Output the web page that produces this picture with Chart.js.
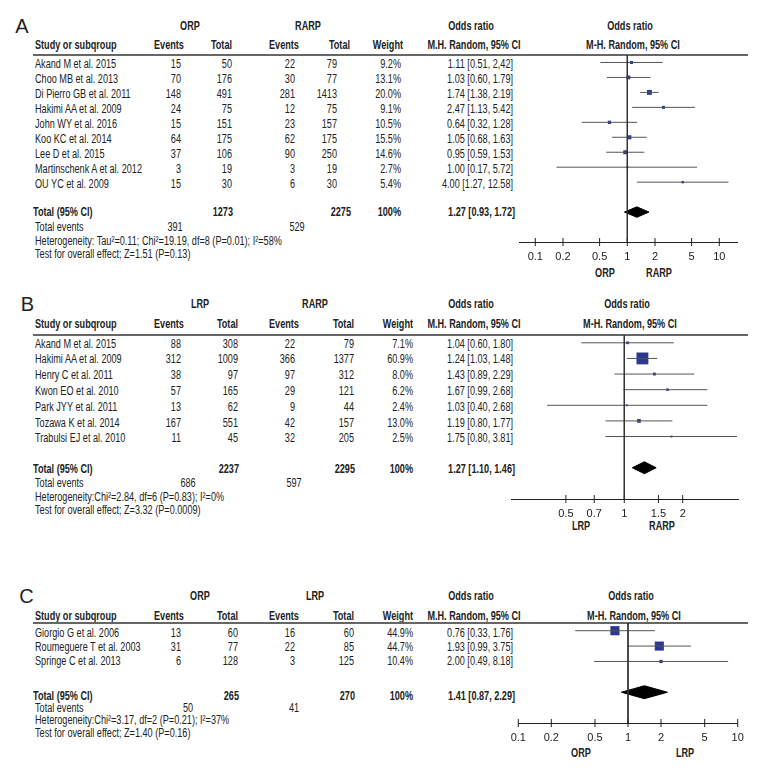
<!DOCTYPE html>
<html>
<head>
<meta charset="utf-8">
<script src="https://cdn.jsdelivr.net/npm/chart.js@4.4.0/dist/chart.umd.min.js"></script>
<style>
  body { margin: 0; background: #fff; }
  #wrap { position: relative; width: 780px; height: 780px; overflow: hidden; background: #fff;
          font-family: "Liberation Sans", Arial, sans-serif; font-size: 12px; color: #222; }
  .t { position: absolute; white-space: nowrap; line-height: 14px; height: 14px; }
  .b { font-weight: bold; }
  .rule { position: absolute; height: 2px; background: #666; }
  canvas { position: absolute; }
</style>
</head>
<body>
<div id="wrap"></div>
<script>
// Panel A: ORP vs RARP
var aStudies = ['Akand M et al. 2015', 'Choo MB et al. 2013', 'Di Pierro GB et al. 2011', 'Hakimi AA et al. 2009',
  'John WY et al. 2016', 'Koo KC et al. 2014', 'Lee D et al. 2015', 'Martinschenk A et al. 2012', 'OU YC et al. 2009'];
var aEv1 = [15, 70, 148, 24, 15, 64, 37, 3, 15];
var aTot1 = [50, 176, 491, 75, 151, 175, 106, 19, 30];
var aEv2 = [22, 30, 281, 12, 23, 62, 90, 3, 6];
var aTot2 = [79, 77, 1413, 75, 157, 175, 250, 19, 30];
var aWeight = [9.2, 13.1, 20.0, 9.1, 10.5, 15.5, 14.6, 2.7, 5.4];
var aOR = [1.11, 1.03, 1.74, 2.47, 0.64, 1.05, 0.95, 1.00, 4.00];
var aLo = [0.51, 0.60, 1.38, 1.13, 0.32, 0.68, 0.59, 0.17, 1.27];
var aHi = [2.42, 1.79, 2.19, 5.42, 1.28, 1.63, 1.53, 5.72, 12.58];
var aPooled = [1.27, 0.93, 1.72];
var aTotals = [1273, 2275];
var aEvents = [391, 529];
var aTicks = [0.1, 0.2, 0.5, 1, 2, 5, 10];

// Panel B: LRP vs RARP
var bStudies = ['Akand M et al. 2015', 'Hakimi AA et al. 2009', 'Henry C et al. 2011', 'Kwon EO et al. 2010',
  'Park JYY et al. 2011', 'Tozawa K et al. 2014', 'Trabulsi EJ et al. 2010'];
var bEv1 = [88, 312, 38, 57, 13, 167, 11];
var bTot1 = [308, 1009, 97, 165, 62, 551, 45];
var bEv2 = [22, 366, 97, 29, 9, 42, 32];
var bTot2 = [79, 1377, 312, 121, 44, 157, 205];
var bWeight = [7.1, 60.9, 8.0, 6.2, 2.4, 13.0, 2.5];
var bOR = [1.04, 1.24, 1.43, 1.67, 1.03, 1.19, 1.75];
var bLo = [0.60, 1.03, 0.89, 0.99, 0.40, 0.80, 0.80];
var bHi = [1.80, 1.48, 2.29, 2.68, 2.68, 1.77, 3.81];
var bPooled = [1.27, 1.10, 1.46];
var bTotals = [2237, 2295];
var bEvents = [686, 597];
var bTicks = [0.5, 0.7, 1, 1.5, 2];

// Panel C: ORP vs LRP
var cStudies = ['Giorgio G et al. 2006', 'Roumeguere T et al. 2003', 'Springe C et al. 2013'];
var cEv1 = [13, 31, 6];
var cTot1 = [60, 77, 128];
var cEv2 = [16, 22, 3];
var cTot2 = [60, 85, 125];
var cWeight = [44.9, 44.7, 10.4];
var cOR = [0.76, 1.93, 2.00];
var cLo = [0.33, 0.99, 0.49];
var cHi = [1.76, 3.75, 8.18];
var cPooled = [1.41, 0.87, 2.29];
var cTotals = [265, 270];
var cEvents = [50, 41];
var cTicks = [0.1, 0.2, 0.5, 1, 2, 5, 10];

var FONT = '"Liberation Sans", Arial, sans-serif';
var SQUEEZE = 0.76; // the original uses a condensed face
Chart.defaults.font.family = FONT;
Chart.defaults.color = '#222';

var wrap = document.getElementById('wrap');

function txt(s, x, y, align, bold, size) {
  var d = document.createElement('div');
  d.className = 't' + (bold ? ' b' : '');
  d.textContent = s;
  var lh = 14;
  if (size) { lh = size + 6; d.style.fontSize = size + 'px'; d.style.lineHeight = lh + 'px'; d.style.height = lh + 'px'; }
  if (align === 'r') { d.style.left = (x - 300) + 'px'; d.style.width = '300px'; d.style.textAlign = 'right'; d.style.transformOrigin = '100% 50%'; }
  else if (align === 'c') { d.style.left = (x - 150) + 'px'; d.style.width = '300px'; d.style.textAlign = 'center'; d.style.transformOrigin = '50% 50%'; }
  else { d.style.left = x + 'px'; d.style.transformOrigin = '0 50%'; }
  if (!size) d.style.transform = 'scaleX(' + SQUEEZE + ')';
  d.style.top = (y - lh / 2) + 'px';
  wrap.appendChild(d);
}

function ci(v) {
  return v[0].toFixed(2) + ' [' + v[1].toFixed(2) + ', ' + v[2].toFixed(2) + ']';
}

function panel(p) {
  var n = p.studies.length;
  // table part
  txt(p.letter, p.letterX, p.groupY, 'c', false, 20);
  txt(p.groups[0], p.groupX[0], p.groupY, 'c', true);
  txt(p.groups[1], p.groupX[1], p.groupY, 'c', true);
  txt('Odds ratio', 471, p.groupY, 'c', true);
  txt('Odds ratio', p.plotHeadX[0], p.groupY, 'c', true);
  txt('Study or subqroup', 35, p.headY, 'l', true);
  txt('Events', 169, p.headY, 'c', true);
  txt('Total', p.col.tot1Head, p.headY, 'r', true);
  txt('Events', 284, p.headY, 'c', true);
  txt('Total', p.col.tot2Head, p.headY, 'r', true);
  txt('Weight', p.col.wHead, p.headY, 'r', true);
  txt('M.H. Random, 95% CI', 474, p.headY, 'c', true);
  txt('M-H. Random, 95% CI', p.plotHeadX[1], p.headY, 'c', true);

  var rule = document.createElement('div');
  rule.className = 'rule';
  rule.style.left = '33px';
  rule.style.width = '715px';
  rule.style.top = (p.plotTop - 1) + 'px';
  wrap.appendChild(rule);

  for (var i = 0; i < n; i++) {
    var y = p.rowY0 + i * p.rowDy;
    txt(p.studies[i], 35, y, 'l');
    txt(String(p.ev1[i]), 181, y, 'r');
    txt(String(p.tot1[i]), p.col.tot1, y, 'r');
    txt(String(p.ev2[i]), 295, y, 'r');
    txt(String(p.tot2[i]), p.col.tot2, y, 'r');
    txt(p.weight[i].toFixed(1) + '%', p.col.w, y, 'r');
    txt(p.ciText ? p.ciText[i] : ci([p.or[i], p.lo[i], p.hi[i]]), 513, y, 'r');
  }
  txt('Total (95% CI)', 33, p.totalY, 'l', true);
  txt(String(p.totals[0]), p.col.tot1Head + 1, p.totalY, 'r', true);
  txt(String(p.totals[1]), p.col.tot2Head + 1, p.totalY, 'r', true);
  txt('100%', p.col.w, p.totalY, 'r', true);
  txt(ci(p.pooled), 515, p.totalY, 'r', true);
  txt('Total events', 35, p.evY, 'l');
  txt(String(p.events[0]), p.evX[0], p.evY, 'c');
  txt(String(p.events[1]), p.evX[1], p.evY, 'c');
  txt(p.het, 35, p.hetY, 'l');
  txt(p.test, 35, p.testY, 'l');
  txt(p.favours[0], p.favX[0], p.favY, 'c', true);
  txt(p.favours[1], p.favX[1], p.favY, 'c', true);

  // plot part
  var cvLeft = 500, cvRight = 770, padTop = 10, axisH = 30;
  var cv = document.createElement('canvas');
  var W = cvRight - cvLeft, H = padTop + (p.plotBottom - p.plotTop) + axisH;
  cv.width = W; cv.height = H;
  cv.style.left = cvLeft + 'px';
  cv.style.top = (p.plotTop - padTop) + 'px';
  wrap.appendChild(cv);

  var axisRow = n + 3, sumRow = n + 1;
  var datasets = [];
  datasets.push({ type: 'line', data: [{ x: 1, y: -0.5 }, { x: 1, y: axisRow }],
    borderColor: '#333', borderWidth: 1, pointRadius: 0 });
  for (var j = 0; j < n; j++) {
    datasets.push({ type: 'line', data: [{ x: p.lo[j], y: j }, { x: p.hi[j], y: j }],
      borderColor: '#555', borderWidth: 1, pointRadius: 0 });
  }
  datasets.push({ type: 'scatter', data: p.or.map(function (v, k) { return { x: v, y: k }; }),
    pointStyle: 'rect', backgroundColor: '#2b3990', borderWidth: 0,
    pointRadius: function (ctx) { return (1.5 + 0.17 * p.weight[ctx.dataIndex]) / Math.SQRT2; } });
  var h = p.diamondH;
  datasets.push({ type: 'line', data: [
      { x: p.pooled[1], y: sumRow }, { x: p.pooled[0], y: sumRow - h },
      { x: p.pooled[2], y: sumRow }, { x: p.pooled[0], y: sumRow + h }, { x: p.pooled[1], y: sumRow }],
    borderColor: '#000', backgroundColor: '#000', borderWidth: 1, pointRadius: 0, fill: 'shape', tension: 0 });
  datasets.push({ type: 'scatter', data: p.ticks.map(function (v) { return { x: v, y: axisRow }; }),
    pointStyle: 'line', rotation: 90, pointRadius: 4, borderColor: '#222', borderWidth: 1 });

  new Chart(cv, {
    data: { datasets: datasets },
    options: {
      responsive: false, animation: false, events: [],
      clip: false,
      layout: { padding: { left: p.plotLeft - cvLeft, right: cvRight - p.plotRight, top: padTop, bottom: 0 } },
      plugins: { legend: { display: false }, tooltip: { enabled: false } },
      datasets: { line: { clip: false }, scatter: { clip: false } },
      scales: {
        x: {
          type: 'logarithmic', position: 'bottom', min: p.xMin, max: p.xMax,
          grid: { display: false, drawTicks: false },
          border: { display: true, color: '#222', width: 1 },
          afterBuildTicks: function (scale) { scale.ticks = p.ticks.map(function (v) { return { value: v }; }); },
          afterFit: function (scale) { scale.height = axisH; },
          ticks: { autoSkip: false, maxRotation: 0, padding: 8, color: '#222', font: { size: 11 },
            callback: function (v) { return String(v); } }
        },
        y: { type: 'linear', display: false, reverse: true, min: -0.5, max: axisRow }
      }
    }
  });
}

var aCiText = aOR.map(function (v, i) { return ci([v, aLo[i], aHi[i]]); });
aCiText[0] = '1.11 [0.51, 2,42]';

panel({
  letter: 'A', letterX: 22, groups: ['ORP', 'RARP'], groupX: [190, 308], groupY: 26, headY: 45,
  plotHeadX: [630, 633],
  col: { tot1: 232, tot1Head: 232, tot2: 337, tot2Head: 350, w: 401, wHead: 403 },
  studies: aStudies, ev1: aEv1, tot1: aTot1, ev2: aEv2, tot2: aTot2, weight: aWeight,
  or: aOR, lo: aLo, hi: aHi, ciText: aCiText, pooled: aPooled, totals: aTotals, events: aEvents, ticks: aTicks,
  rowY0: 63.5, rowDy: 15, totalY: 212, evY: 227, evX: [175, 297], hetY: 240.5, testY: 253.5,
  het: 'Heterogeneity: Tau\u00b2=0.11; Chi\u00b2=19.19, df=8 (P=0.01); I\u00b2=58%',
  test: 'Test for overall effect; Z=1.51 (P=0.13)',
  favours: ['ORP', 'RARP'], favX: [605, 659], favY: 272.5,
  plotLeft: 519, plotRight: 737, plotTop: 55, plotBottom: 242, xMin: 0.0665, xMax: 15.57, diamondH: 0.35
});

panel({
  letter: 'B', letterX: 27.5, groups: ['LRP', 'RARP'], groupX: [200, 315], groupY: 304, headY: 324,
  plotHeadX: [627, 630],
  col: { tot1: 237.5, tot1Head: 237.5, tot2: 353.5, tot2Head: 353.5, w: 412.5, wHead: 413 },
  studies: bStudies, ev1: bEv1, tot1: bTot1, ev2: bEv2, tot2: bTot2, weight: bWeight,
  or: bOR, lo: bLo, hi: bHi, pooled: bPooled, totals: bTotals, events: bEvents, ticks: bTicks,
  rowY0: 343.5, rowDy: 15.8, totalY: 469, evY: 482.5, evX: [188, 294], hetY: 496.5, testY: 509.5,
  het: 'Heterogeneity:Chi\u00b2=2.84, df=6 (P=0.83); I\u00b2=0%',
  test: 'Test for overall effect; Z=3.32 (P=0.0009)',
  favours: ['LRP', 'RARP'], favX: [581, 662], favY: 526,
  plotLeft: 511.7, plotRight: 738, plotTop: 334.5, plotBottom: 499, xMin: 0.2628, xMax: 3.856, diamondH: 0.38
});

panel({
  letter: 'C', letterX: 26.5, groups: ['ORP', 'LRP'], groupX: [200, 315], groupY: 596, headY: 615.5,
  plotHeadX: [631, 634],
  col: { tot1: 237.5, tot1Head: 237.5, tot2: 353.5, tot2Head: 353.5, w: 412.5, wHead: 413 },
  studies: cStudies, ev1: cEv1, tot1: cTot1, ev2: cEv2, tot2: cTot2, weight: cWeight,
  or: cOR, lo: cLo, hi: cHi, pooled: cPooled, totals: cTotals, events: cEvents, ticks: cTicks,
  rowY0: 632.5, rowDy: 14, totalY: 696, evY: 707.5, evX: [188, 294], hetY: 720, testY: 732.5,
  het: 'Heterogeneity:Chi\u00b2=3.17, df=2 (P=0.21); I\u00b2=37%',
  test: 'Test for overall effect; Z=1.40 (P=0.16)',
  favours: ['ORP', 'LRP'], favX: [581, 685], favY: 753,
  plotLeft: 518.3, plotRight: 737.7, plotTop: 622.7, plotBottom: 723, xMin: 0.1, xMax: 10, diamondH: 0.42
});
</script>
</body>
</html>
